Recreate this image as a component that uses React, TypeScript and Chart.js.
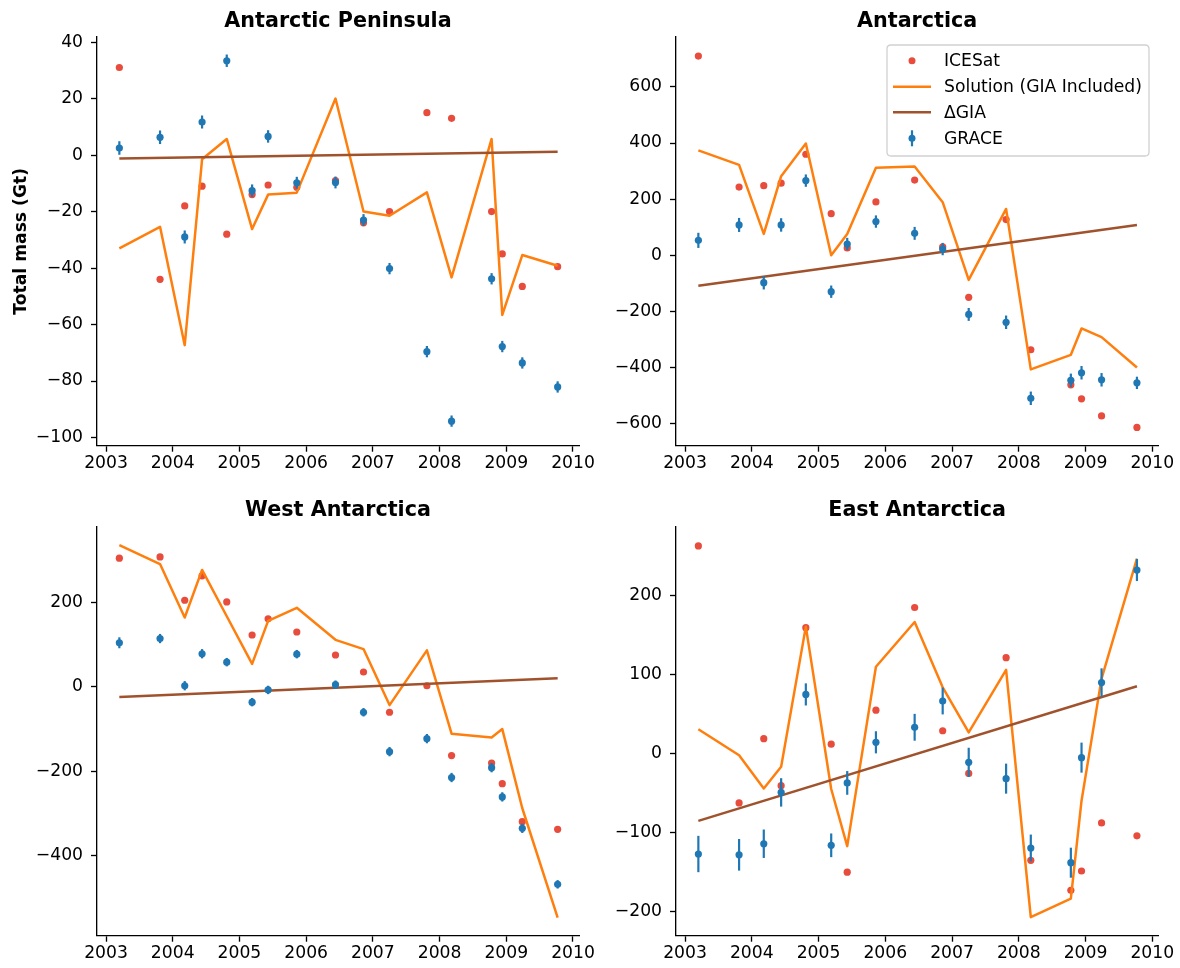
import React, { useEffect, useRef } from "react";
import { Chart, registerables } from "chart.js";

Chart.register(...registerables);
Chart.defaults.font.family = "'DejaVu Sans', sans-serif";

// ---------- shared data ----------
const dates = [
  2003.2, 2003.81, 2004.18, 2004.44, 2004.81, 2005.19, 2005.43, 2005.86, 2006.44,
  2006.86, 2007.25, 2007.81, 2008.18, 2008.78, 2008.94, 2009.24, 2009.77,
];
const giaDates = [2003.2, 2009.77];
const xTicks = [2003, 2004, 2005, 2006, 2007, 2008, 2009, 2010];

// ---------- Antarctic Peninsula ----------
const apIcesat = [31, -44, -18, -11, -28, -14, -10.6, -11.4, -9, -24, -20, 15, 13, -20, -35, -46.5, -39.5];
const apGrace = [2.5, 6.3, -29, 11.7, 33.4, -12.6, 6.6, -9.8, -9.7, -23, -40.2, -69.6, -94.2, -43.8, -67.8, -73.6, -82.1];
const apGraceErr = [2.4, 2.4, 2.3, 2.3, 2.2, 2.2, 2.2, 2.1, 2.1, 2.1, 2.0, 2.0, 2.0, 2.0, 2.0, 2.0, 2.0];
const apSolution = [-33, -25.4, -67.3, -1.5, 5.7, -26.2, -14, -13.3, 20, -20, -21.5, -13.2, -43.3, 5.7, -56.6, -35.4, -39.2];
const apGia = [-1.2, 1.2];
const apYTicks = [-100, -80, -60, -40, -20, 0, 20, 40];

// ---------- Antarctica ----------
const anIcesat = [710, 243, 248, 257, 360, 148, 26, 190, 268, 30, -150, 127, -337, -462, -512, -573, -614];
const anGrace = [53, 108, -98, 108, 266, -130, 40, 120, 78, 22, -211, -239, -510, -446, -419, -444, -455];
const anGraceErr = [27, 25, 24, 24, 22, 22, 22, 22, 23, 22, 23, 24, 24, 24, 24, 24, 22];
const anSolution = [374, 322, 76, 282, 398, 0, 76, 312, 316, 189, -88, 165, -407, -355, -261, -292, -400];
const anGia = [-109, 108];
const anYTicks = [-600, -400, -200, 0, 200, 400, 600];

// ---------- West Antarctica ----------
const waIcesat = [306, 309, 206, 264, 202, 123.5, 162, 130.6, 76, 35.6, -60, 3, -163, -180.5, -229.6, -320, -338];
const waGrace = [105, 115, 3, 79, 59, -36, -7, 78, 5.5, -60, -153.6, -122.7, -215, -191.6, -261, -335.7, -468.7];
const waGraceErr = [13, 11, 11, 11, 10, 10, 10, 10, 10, 10, 11, 11, 11, 11, 11, 11, 10];
const waSolution = [337, 292, 165, 278, 168, 55, 157, 188, 112, 90, -43, 87, -111, -120, -100, -288, -548];
const waGia = [-24, 20.6];
const waYTicks = [-400, -200, 0, 200];

// ---------- East Antarctica ----------
const eaIcesat = [263, -62.4, 19, -40.5, 159.5, 12, -150, 55, 185, 29, -25, 121.5, -135, -173, -148.5, -87.7, -104];
const eaGrace = [-127, -128, -114, -49, 75, -116, -37, 14.4, 33.4, 66.7, -11, -31.6, -119.4, -138, -5, 90, 232.5];
const eaGraceErr = [23, 20, 18, 18, 14, 15, 15, 14, 17, 17, 18.5, 19, 17, 19, 19, 18, 14];
const eaSolution = [31, -2, -44, -16.5, 160.8, -44.7, -117, 110, 166.7, 84, 27, 106, -207, -183.5, -59.5, 95, 247];
const eaGia = [-85, 85.3];
const eaYTicks = [-200, -100, 0, 100, 200];

// ---------- styles ----------
const RED = "#e74c3c";
const BLUE = "#1f77b4";
const ORANGE = "#ff7f0e";
const BROWN = "#a0522d";
const FONT = "'DejaVu Sans', sans-serif";
const TICK_SIZE = 17.2;
const TITLE_SIZE = 20.7;
const W = 1180;
const H = 968;
const YW = 90;
const XH = 40;
const X_MIN = 2002.865;
const X_MAX = 2010.09;

type Panel = {
  title: string;
  icesat: number[];
  grace: number[];
  graceErr: number[];
  solution: number[];
  gia: number[];
  yTicks: number[];
  yMin: number;
  yMax: number;
  area: { left: number; top: number; right: number; bottom: number };
  yLabel?: string;
  legend?: boolean;
};

const panels: Panel[] = [
  {
    title: "Antarctic Peninsula",
    icesat: apIcesat, grace: apGrace, graceErr: apGraceErr, solution: apSolution, gia: apGia,
    yTicks: apYTicks, yMin: -102.9, yMax: 41.8,
    area: { left: 97, top: 37, right: 579, bottom: 445.7 },
    yLabel: "Total mass (Gt)",
  },
  {
    title: "Antarctica",
    icesat: anIcesat, grace: anGrace, graceErr: anGraceErr, solution: anSolution, gia: anGia,
    yTicks: anYTicks, yMin: -679, yMax: 778,
    area: { left: 676, top: 37, right: 1158.3, bottom: 445.7 },
    legend: true,
  },
  {
    title: "West Antarctica",
    icesat: waIcesat, grace: waGrace, graceErr: waGraceErr, solution: waSolution, gia: waGia,
    yTicks: waYTicks, yMin: -590.7, yMax: 380.7,
    area: { left: 97, top: 526.7, right: 579, bottom: 935.7 },
  },
  {
    title: "East Antarctica",
    icesat: eaIcesat, grace: eaGrace, graceErr: eaGraceErr, solution: eaSolution, gia: eaGia,
    yTicks: eaYTicks, yMin: -230.4, yMax: 287.3,
    area: { left: 676, top: 526.7, right: 1158.3, bottom: 935.7 },
  },
];

const fmt = (v: number) => (v < 0 ? "\u2212" + Math.abs(v) : String(v));

function makePlugin(p: Panel) {
  return {
    id: "custom_" + p.title.replace(/\s/g, "_"),
    beforeDatasetDraw(chart: any, args: any) {
      if (args.index !== 3) return;
      const ctx = chart.ctx;
      const xs = chart.scales.x;
      const ys = chart.scales.y;
      ctx.save();
      ctx.strokeStyle = BLUE;
      ctx.lineWidth = 2.2;
      p.grace.forEach((v, i) => {
        const px = xs.getPixelForValue(dates[i]);
        ctx.beginPath();
        ctx.moveTo(px, ys.getPixelForValue(v - p.graceErr[i]));
        ctx.lineTo(px, ys.getPixelForValue(v + p.graceErr[i]));
        ctx.stroke();
      });
      ctx.restore();
    },
    afterDraw(chart: any) {
      const ctx = chart.ctx;
      const ca = chart.chartArea;
      ctx.save();
      // title
      ctx.fillStyle = "#000";
      ctx.font = `bold ${TITLE_SIZE}px ${FONT}`;
      ctx.textAlign = "center";
      ctx.textBaseline = "alphabetic";
      ctx.fillText(p.title, (ca.left + ca.right) / 2, ca.top - 10.5);
      // y label
      if (p.yLabel) {
        ctx.save();
        ctx.translate(21.5, (ca.top + ca.bottom) / 2);
        ctx.rotate(-Math.PI / 2);
        ctx.font = `bold ${TICK_SIZE}px ${FONT}`;
        ctx.textAlign = "center";
        ctx.textBaseline = "middle";
        ctx.fillText(p.yLabel, 0, 0);
        ctx.restore();
      }
      // legend
      if (p.legend) {
        const bx = 887, by = 45, bw = 262, bh = 111, r = 4;
        ctx.beginPath();
        ctx.moveTo(bx + r, by);
        ctx.lineTo(bx + bw - r, by);
        ctx.quadraticCurveTo(bx + bw, by, bx + bw, by + r);
        ctx.lineTo(bx + bw, by + bh - r);
        ctx.quadraticCurveTo(bx + bw, by + bh, bx + bw - r, by + bh);
        ctx.lineTo(bx + r, by + bh);
        ctx.quadraticCurveTo(bx, by + bh, bx, by + bh - r);
        ctx.lineTo(bx, by + r);
        ctx.quadraticCurveTo(bx, by, bx + r, by);
        ctx.closePath();
        ctx.fillStyle = "rgba(255,255,255,0.8)";
        ctx.fill();
        ctx.strokeStyle = "rgba(204,204,204,0.9)";
        ctx.lineWidth = 1.3;
        ctx.stroke();
        const hx0 = 893, hx1 = 931, hxc = 912, tx = 944;
        const rows = [60.7, 86.7, 112.3, 138.3];
        // ICESat
        ctx.fillStyle = RED;
        ctx.beginPath();
        ctx.arc(hxc, rows[0], 3.5, 0, Math.PI * 2);
        ctx.fill();
        // Solution
        ctx.strokeStyle = ORANGE;
        ctx.lineWidth = 2.5;
        ctx.beginPath();
        ctx.moveTo(hx0, rows[1]);
        ctx.lineTo(hx1, rows[1]);
        ctx.stroke();
        // GIA
        ctx.strokeStyle = BROWN;
        ctx.beginPath();
        ctx.moveTo(hx0, rows[2]);
        ctx.lineTo(hx1, rows[2]);
        ctx.stroke();
        // GRACE
        ctx.strokeStyle = BLUE;
        ctx.lineWidth = 2.2;
        ctx.beginPath();
        ctx.moveTo(hxc, rows[3] - 8);
        ctx.lineTo(hxc, rows[3] + 8);
        ctx.stroke();
        ctx.fillStyle = BLUE;
        ctx.beginPath();
        ctx.arc(hxc, rows[3], 3.5, 0, Math.PI * 2);
        ctx.fill();
        // texts
        ctx.fillStyle = "#000";
        ctx.font = `${TICK_SIZE}px ${FONT}`;
        ctx.textAlign = "left";
        ctx.textBaseline = "middle";
        const labels = ["ICESat", "Solution (GIA Included)", "\u0394GIA", "GRACE"];
        labels.forEach((t, i) => ctx.fillText(t, tx, rows[i] + 1));
      }
      ctx.restore();
    },
  };
}

function ChartPanel({ p }: { p: Panel }) {
  const ref = useRef<HTMLCanvasElement | null>(null);
  useEffect(() => {
    if (!ref.current) return;
    const toXY = (ys: number[], xs: number[]) => ys.map((y, i) => ({ x: xs[i], y }));
    const chart = new Chart(ref.current, {
      type: "line",
      data: {
        datasets: [
          {
            label: "ICESat",
            data: toXY(p.icesat, dates),
            showLine: false,
            pointRadius: 3.6,
            pointBackgroundColor: RED,
            pointBorderWidth: 0,
            borderColor: RED,
            order: 3,
          },
          {
            label: "Solution (GIA Included)",
            data: toXY(p.solution, dates),
            borderColor: ORANGE,
            borderWidth: 2.5,
            pointRadius: 0,
            tension: 0,
            borderJoinStyle: "round",
            fill: false,
            order: 2,
          },
          {
            label: "\u0394GIA",
            data: toXY(p.gia, giaDates),
            borderColor: BROWN,
            borderWidth: 2.5,
            pointRadius: 0,
            tension: 0,
            fill: false,
            order: 1,
          },
          {
            label: "GRACE",
            data: toXY(p.grace, dates),
            showLine: false,
            pointRadius: 3.6,
            pointBackgroundColor: BLUE,
            pointBorderWidth: 0,
            borderColor: BLUE,
            order: 0,
          },
        ],
      } as any,
      options: {
        responsive: false,
        animation: false,
        events: [],
        layout: {
          padding: {
            left: p.area.left - YW,
            top: p.area.top,
            right: W - p.area.right,
            bottom: H - p.area.bottom - XH,
          },
        },
        plugins: {
          legend: { display: false },
          title: { display: false },
          tooltip: { enabled: false },
        },
        scales: {
          x: {
            type: "linear",
            position: "bottom",
            min: X_MIN,
            max: X_MAX,
            afterBuildTicks: (s: any) => {
              s.ticks = xTicks.map((v) => ({ value: v }));
            },
            afterFit: (s: any) => {
              s.height = XH;
            },
            grid: {
              display: true,
              drawOnChartArea: false,
              drawTicks: true,
              tickLength: 6,
              tickWidth: 1.33,
              tickColor: "#000",
            },
            border: { display: true, color: "#000", width: 1.33 },
            ticks: {
              font: { size: TICK_SIZE, family: FONT },
              color: "#000",
              padding: 2,
              maxRotation: 0,
              autoSkip: false,
              callback: (v: any) => String(v),
            },
          },
          y: {
            type: "linear",
            position: "left",
            min: p.yMin,
            max: p.yMax,
            afterBuildTicks: (s: any) => {
              s.ticks = p.yTicks.map((v) => ({ value: v }));
            },
            afterFit: (s: any) => {
              s.width = YW;
            },
            grid: {
              display: true,
              drawOnChartArea: false,
              drawTicks: true,
              tickLength: 6,
              tickWidth: 1.33,
              tickColor: "#000",
            },
            border: { display: true, color: "#000", width: 1.33 },
            ticks: {
              font: { size: TICK_SIZE, family: FONT },
              color: "#000",
              padding: 8,
              autoSkip: false,
              callback: (v: any) => fmt(Number(v)),
            },
          },
        },
      } as any,
      plugins: [makePlugin(p)],
    });
    return () => chart.destroy();
  }, [p]);
  return (
    <canvas
      ref={ref}
      width={W}
      height={H}
      style={{ position: "absolute", left: 0, top: 0, width: W, height: H }}
    />
  );
}

export default function App() {
  return (
    <div style={{ position: "absolute", left: 0, top: 0, width: W, height: H, background: "#fff" }}>
      {panels.map((p) => (
        <ChartPanel key={p.title} p={p} />
      ))}
    </div>
  );
}
